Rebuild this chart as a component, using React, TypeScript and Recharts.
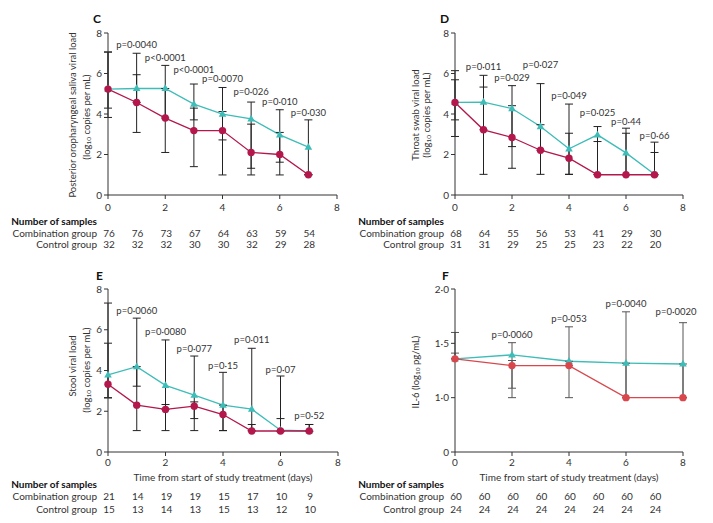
import React from 'react';
import { ComposedChart, Line, XAxis, YAxis, ErrorBar, Scatter } from 'recharts';

const FONT = "Lato, 'Liberation Sans', sans-serif";
const TEAL = '#3dbcb8';
const CRIMSON = '#b3174b';
const SALMON = '#d9474d';
const INK = '#333';

// ---- C: posterior oropharyngeal saliva ----
const cDays = [0, 1, 2, 3, 4, 5, 6, 7];
const cComb = [5.23, 5.26, 5.26, 4.49, 3.99, 3.76, 2.97, 2.36];
const cCombLow = [4.29, 4.57, 3.8, 3.71, 2.72, 1.32, 1.62, 1.0];
const cCombHigh = [7.06, 7.0, 6.4, 5.48, 5.31, 4.59, 4.21, 3.71];
const cCtrl = [5.23, 4.57, 3.8, 3.18, 3.18, 2.1, 2.0, 1.0];
const cCtrlLow = [3.83, 3.09, 2.1, 1.4, 0.99, 0.99, 0.99, 1.0];
const cCtrlHigh = [7.06, 5.94, 5.26, 4.29, 4.12, 3.5, 3.09, 1.0];
const cP = ['', 'p=0·0040', 'p<0·0001', 'p<0·0001', 'p=0·0070', 'p=0·026', 'p=0·010', 'p=0·030'];
const cPY = [0, 7.44, 6.78, 6.22, 5.73, 5.1, 4.61, 4.08];
const cNComb = [76, 76, 73, 67, 64, 63, 59, 54];
const cNCtrl = [32, 32, 32, 30, 30, 32, 29, 28];

// ---- D: throat swab ----
const dDays = [0, 1, 2, 3, 4, 5, 6, 7];
const dComb = [4.57, 4.59, 4.27, 3.38, 2.28, 2.97, 2.08, 1.02];
const dCombLow = [3.71, 3.22, 2.39, 2.21, 1.02, 1.02, 1.0, 1.0];
const dCombHigh = [5.69, 5.91, 5.4, 5.5, 4.49, 3.38, 3.3, 2.61];
const dCtrl = [4.57, 3.22, 2.84, 2.21, 1.82, 1.0, 1.0, 1.0];
const dCtrlLow = [2.89, 1.02, 1.32, 1.02, 1.02, 1.0, 1.0, 1.0];
const dCtrlHigh = [6.14, 5.33, 4.41, 3.47, 3.05, 2.64, 3.05, 2.1];
const dP = ['', 'p=0·011', 'p=0·029', 'p=0·027', 'p=0·049', 'p=0·025', 'p=0·44', 'p=0·66'];
const dPY = [0, 6.34, 5.79, 6.42, 4.9, 4.08, 3.64, 2.96];
const dNComb = [68, 64, 55, 56, 53, 41, 29, 30];
const dNCtrl = [31, 31, 29, 25, 25, 23, 22, 20];

// ---- E: stool ----
const eDays = [0, 1, 2, 3, 4, 5, 6, 7];
const eComb = [3.78, 4.19, 3.27, 2.79, 2.3, 2.1, 1.07, 1.03];
const eCombLow = [2.66, 3.23, 2.09, 1.64, 1.05, 1.05, 1.0, 1.0];
const eCombHigh = [7.31, 6.57, 5.5, 4.71, 3.91, 5.09, 1.64, 1.35];
const eCtrl = [3.33, 2.3, 2.09, 2.25, 1.84, 1.03, 1.03, 1.03];
const eCtrlLow = [2.66, 1.05, 1.05, 1.05, 1.05, 1.03, 1.03, 1.03];
const eCtrlHigh = [5.34, 4.19, 2.33, 2.46, 2.3, 1.35, 3.73, 1.35];
const eP = ['', 'p=0·0060', 'p=0·0080', 'p=0·077', 'p=0·15', 'p=0·011', 'p=0·07', 'p=0·52'];
const ePY = [0, 6.93, 5.91, 5.07, 4.25, 5.5, 4.07, 1.79];
const eNComb = [21, 14, 19, 19, 15, 17, 10, 9];
const eNCtrl = [15, 13, 14, 13, 15, 13, 12, 10];

// ---- F: IL-6 ----
const fDays = [0, 2, 4, 6, 8];
const fComb = [1.357, 1.394, 1.335, 1.317, 1.31];
const fCombLow = [1.357, 1.087, 1.295, 1.0, 1.0];
const fCombHigh = [1.6, 1.506, 1.652, 1.79, 1.69];
const fCtrl = [1.357, 1.295, 1.295, 1.0, 1.0];
const fCtrlLow = [1.357, 1.0, 1.0, 1.0, 1.0];
const fCtrlHigh = [1.41, 1.342, 1.335, 1.317, 1.31];
const fP = ['', 'p=0·0060', 'p=0·053', 'p=0·0040', 'p=0·0020'];
const fPY = [0, 1.584, 1.727, 1.87, 1.789];
const fNComb = [60, 60, 60, 60, 60, 60, 60, 60];
const fNCtrl = [24, 24, 24, 24, 24, 24, 24, 24];

const vlTicks = [0, 2, 4, 6, 8];
const il6Ticks = [0, 0.5, 1, 1.5];
const il6TickLabels = ['0', '1·0', '1·5', '2·0'];
// IL-6 axis is broken: 0 -> 1.0 takes the same space as 1.0 -> 1.5
const il6Map = (v: number) => (v >= 1 ? v - 0.5 : v / 2);

const dayTicks = [0, 1, 2, 3, 4, 5, 6, 7, 8];

type Box = { left: number; top: number; width: number; height: number };
type Plot = { x0: number; x1: number; y0: number; y1: number };
type Rows = { tick: number; time?: number; head: number; comb: number; ctrl: number };

type PanelProps = {
  box: Box;
  plot: Plot;
  days: number[];
  comb: number[];
  combLow: number[];
  combHigh: number[];
  ctrl: number[];
  ctrlLow: number[];
  ctrlHigh: number[];
  pText: string[];
  pY: number[];
  pDx?: number[];
  nComb: number[];
  nCtrl: number[];
  yTicks: number[];
  yFormat: (v: number) => string;
  mapY?: (v: number) => number;
  rows: Rows;
  red: string;
  barColor: string;
};

function Panel(props: PanelProps) {
  const { box, plot, days, rows, red, barColor, nComb, nCtrl } = props;
  const YW = 40;
  const XH = 64;
  const f = props.mapY ?? ((v: number) => v);
  const margin = {
    left: plot.x0 - box.left - YW,
    right: box.left + box.width - plot.x1,
    top: plot.y0 - box.top,
    bottom: box.top + box.height - plot.y1 - XH,
  };
  const axisY = plot.y1 - box.top;

  const data = days.map((d, i) => ({
    day: d,
    comb: f(props.comb[i]),
    combErr: [f(props.comb[i]) - f(props.combLow[i]), f(props.combHigh[i]) - f(props.comb[i])],
    ctrl: f(props.ctrl[i]),
    ctrlErr: [f(props.ctrl[i]) - f(props.ctrlLow[i]), f(props.ctrlHigh[i]) - f(props.ctrl[i])],
  }));

  const pRows = days
    .map((d, i) => ({ day: d, pY: f(props.pY[i]), text: props.pText[i], dx: props.pDx?.[i] ?? 0 }))
    .filter((r) => r.text);

  const txt = { fontFamily: FONT, fontSize: 10, fill: INK };

  const renderTick = (tp: any) => {
    const x = tp.x;
    const v = tp.payload.value;
    return (
      <g key={`t${v}`}>
        {v % 2 === 0 && <line x1={x} x2={x} y1={axisY} y2={axisY + 4} stroke={INK} strokeWidth={1} />}
        {v % 2 === 0 && (
          <text x={x} y={axisY + rows.tick} textAnchor="middle" dominantBaseline="central" {...txt}>
            {v}
          </text>
        )}
        {v < nComb.length && (
          <text x={x + 1} y={axisY + rows.comb} textAnchor="middle" dominantBaseline="central" {...txt}>
            {nComb[v]}
          </text>
        )}
        {v < nCtrl.length && (
          <text x={x + 1} y={axisY + rows.ctrl} textAnchor="middle" dominantBaseline="central" {...txt}>
            {nCtrl[v]}
          </text>
        )}
        {v === 0 && (
          <g>
            <text x={x - 11} y={axisY + rows.head} textAnchor="end" dominantBaseline="central" {...txt} fontWeight="bold" fill="#111">
              Number of samples
            </text>
            <text x={x - 11} y={axisY + rows.comb} textAnchor="end" dominantBaseline="central" {...txt}>
              Combination group
            </text>
            <text x={x - 11} y={axisY + rows.ctrl} textAnchor="end" dominantBaseline="central" {...txt}>
              Control group
            </text>
          </g>
        )}
        {v === 4 && rows.time !== undefined && (
          <text x={x} y={axisY + rows.time} textAnchor="middle" dominantBaseline="central" {...txt}>
            Time from start of study treatment (days)
          </text>
        )}
      </g>
    );
  };

  const triangle = (dp: any) => {
    const { cx, cy } = dp;
    if (cx == null || cy == null) return <g key={dp.index} />;
    return (
      <path
        key={`tri${dp.index}`}
        d={`M${cx},${cy - 4.2} L${cx + 3.8},${cy + 2.6} L${cx - 3.8},${cy + 2.6} Z`}
        fill={TEAL}
      />
    );
  };
  const circle = (dp: any) => {
    const { cx, cy } = dp;
    if (cx == null || cy == null) return <g key={dp.index} />;
    return <circle key={`c${dp.index}`} cx={cx} cy={cy} r={3.7} fill={red} />;
  };

  return (
    <div style={{ position: 'absolute', left: box.left, top: box.top }}>
      <ComposedChart width={box.width} height={box.height} data={data} margin={margin}>
        <XAxis
          dataKey="day"
          type="number"
          domain={[0, 8]}
          ticks={dayTicks}
          interval={0}
          tickLine={false}
          axisLine={{ stroke: INK, strokeWidth: 1 }}
          height={XH}
          tick={renderTick}
        />
        <YAxis
          type="number"
          domain={[props.yTicks[0], props.yTicks[props.yTicks.length - 1]]}
          ticks={props.yTicks}
          interval={0}
          tickFormatter={props.yFormat}
          width={YW}
          tickSize={4}
          tickMargin={2}
          tickLine={{ stroke: INK, strokeWidth: 1 }}
          axisLine={{ stroke: INK, strokeWidth: 1 }}
          tick={{ fontFamily: FONT, fontSize: 10, fill: INK }}
        />
        <Line
          dataKey="comb"
          type="linear"
          stroke={TEAL}
          strokeWidth={1.3}
          dot={triangle}
          activeDot={false}
          isAnimationActive={false}
        >
          <ErrorBar dataKey="combErr" direction="y" width={4} stroke={barColor} strokeWidth={1} isAnimationActive={false} />
        </Line>
        <Line
          dataKey="ctrl"
          type="linear"
          stroke={red}
          strokeWidth={1.3}
          dot={circle}
          activeDot={false}
          isAnimationActive={false}
        >
          <ErrorBar dataKey="ctrlErr" direction="y" width={4} stroke={barColor} strokeWidth={1} isAnimationActive={false} />
        </Line>
        <Scatter
          data={pRows}
          dataKey="pY"
          isAnimationActive={false}
          shape={(sp: any) => (
            <text
              x={sp.cx + (sp.payload?.dx ?? 0)}
              y={sp.cy}
              textAnchor="middle"
              dominantBaseline="central"
              fontFamily={FONT}
              fontSize={9.5}
              fill={INK}
            >
              {sp.payload?.text}
            </text>
          )}
        />
      </ComposedChart>
    </div>
  );
}

function YTitle({ x, y, children }: { x: number; y: number; children: React.ReactNode }) {
  return (
    <text
      x={x}
      y={y}
      transform={`rotate(-90 ${x} ${y})`}
      textAnchor="middle"
      dominantBaseline="central"
      fontFamily={FONT}
      fontSize={9.5}
      fill={INK}
    >
      {children}
    </text>
  );
}

const Log10 = ({ rest }: { rest: string }) => (
  <>
    <tspan>(log</tspan>
    <tspan fontSize={6.5} dy={2}>10</tspan>
    <tspan dy={-2}>{rest}</tspan>
  </>
);

export default function App() {
  const intFmt = (v: number) => String(v);
  const il6Fmt = (v: number) => il6TickLabels[il6Ticks.indexOf(v)] ?? '';
  const topRows: Rows = { tick: 12, head: 26, comb: 38, ctrl: 49 };
  const botRows: Rows = { tick: 10, time: 25, head: 32, comb: 44, ctrl: 57 };

  return (
    <div
      style={{
        position: 'absolute',
        left: 0,
        top: 0,
        width: 713,
        height: 523,
        background: '#fff',
        overflow: 'hidden',
      }}
    >
      <Panel
        box={{ left: 0, top: 0, width: 356, height: 262 }}
        plot={{ x0: 108, x1: 337, y0: 33, y1: 195 }}
        days={cDays}
        comb={cComb}
        combLow={cCombLow}
        combHigh={cCombHigh}
        ctrl={cCtrl}
        ctrlLow={cCtrlLow}
        ctrlHigh={cCtrlHigh}
        pText={cP}
        pY={cPY}
        nComb={cNComb}
        nCtrl={cNCtrl}
        yTicks={vlTicks}
        yFormat={intFmt}
        rows={topRows}
        red={CRIMSON}
        barColor="#222"
      />
      <Panel
        box={{ left: 356, top: 0, width: 357, height: 262 }}
        plot={{ x0: 455, x1: 683, y0: 33, y1: 195 }}
        days={dDays}
        comb={dComb}
        combLow={dCombLow}
        combHigh={dCombHigh}
        ctrl={dCtrl}
        ctrlLow={dCtrlLow}
        ctrlHigh={dCtrlHigh}
        pText={dP}
        pY={dPY}
        nComb={dNComb}
        nCtrl={dNCtrl}
        yTicks={vlTicks}
        yFormat={intFmt}
        rows={topRows}
        red={CRIMSON}
        barColor="#222"
      />
      <Panel
        box={{ left: 0, top: 262, width: 356, height: 261 }}
        plot={{ x0: 108, x1: 338, y0: 289, y1: 452 }}
        days={eDays}
        comb={eComb}
        combLow={eCombLow}
        combHigh={eCombHigh}
        ctrl={eCtrl}
        ctrlLow={eCtrlLow}
        ctrlHigh={eCtrlHigh}
        pText={eP}
        pY={ePY}
        nComb={eNComb}
        nCtrl={eNCtrl}
        yTicks={vlTicks}
        yFormat={intFmt}
        rows={botRows}
        red={CRIMSON}
        barColor="#222"
      />
      <Panel
        box={{ left: 356, top: 262, width: 357, height: 261 }}
        plot={{ x0: 455, x1: 683, y0: 289, y1: 452 }}
        days={fDays}
        comb={fComb}
        combLow={fCombLow}
        combHigh={fCombHigh}
        ctrl={fCtrl}
        ctrlLow={fCtrlLow}
        ctrlHigh={fCtrlHigh}
        pText={fP}
        pY={fPY}
        pDx={[0, 0, 0, 0, -7]}
        nComb={fNComb}
        nCtrl={fNCtrl}
        yTicks={il6Ticks}
        yFormat={il6Fmt}
        mapY={il6Map}
        rows={botRows}
        red={SALMON}
        barColor="#555"
      />
      <svg
        width={713}
        height={523}
        style={{ position: 'absolute', left: 0, top: 0, pointerEvents: 'none' }}
      >
        <g fontFamily={FONT} fontSize={12} fontWeight="bold" fill="#111">
          <text x={93} y={18} dominantBaseline="central">C</text>
          <text x={440} y={18} dominantBaseline="central">D</text>
          <text x={96} y={275} dominantBaseline="central">E</text>
          <text x={442} y={275} dominantBaseline="central">F</text>
        </g>
        <YTitle x={72} y={115}>Posterior oropharyngeal saliva viral load</YTitle>
        <YTitle x={86} y={117}>
          <Log10 rest=" copies per mL)" />
        </YTitle>
        <YTitle x={415} y={115}>Throat swab viral load</YTitle>
        <YTitle x={426} y={115}>
          <Log10 rest=" copies per mL)" />
        </YTitle>
        <YTitle x={72.5} y={366}>Stool viral load</YTitle>
        <YTitle x={86} y={370}>
          <Log10 rest=" copies per mL)" />
        </YTitle>
        <YTitle x={415} y={372}>
          <tspan>IL-6 </tspan>
          <Log10 rest=" pg/mL)" />
        </YTitle>
      </svg>
    </div>
  );
}
